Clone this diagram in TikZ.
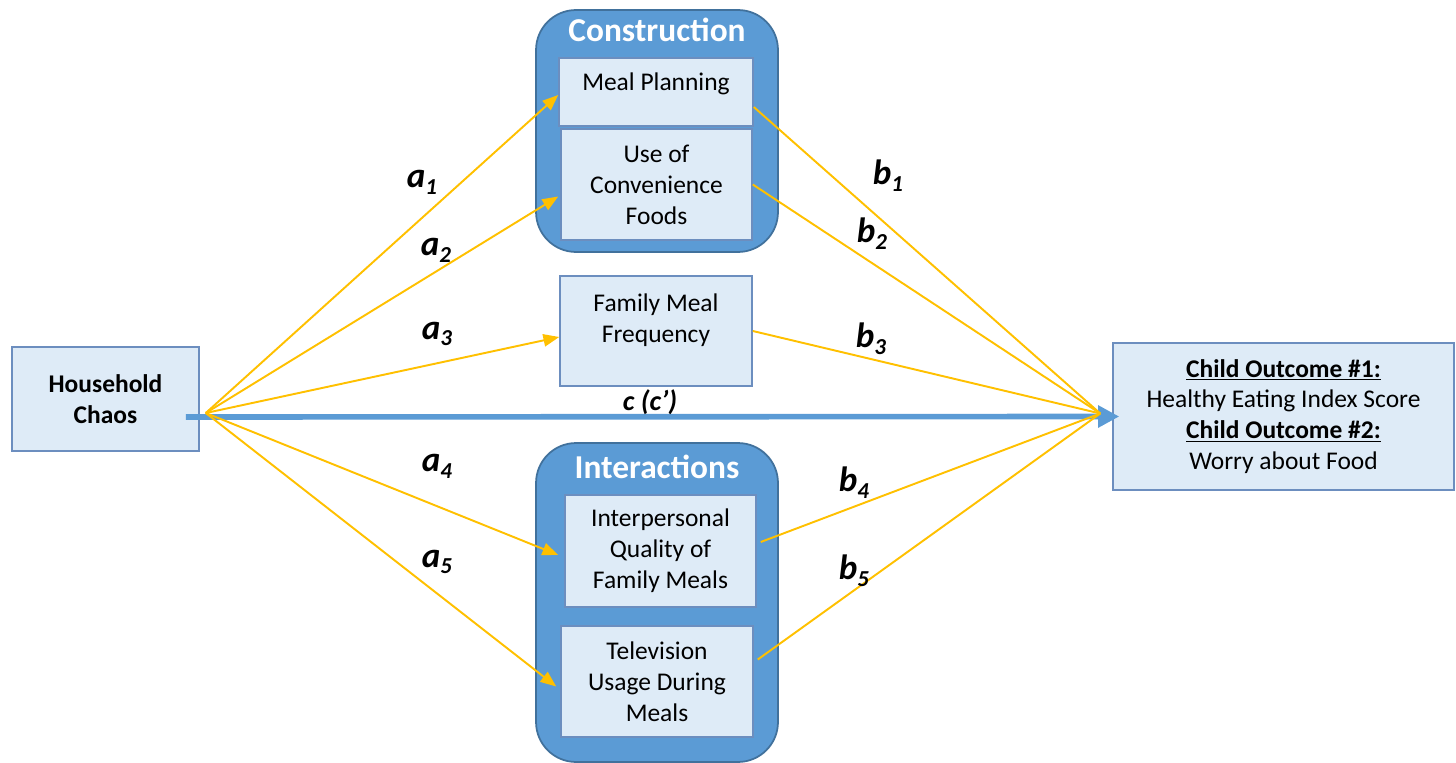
\documentclass[tikz,border=0pt]{standalone}
\usepackage{fontspec}
\setmainfont{Carlito}
\usetikzlibrary{arrows.meta}
\definecolor{boxfill}{HTML}{DEEBF7}
\definecolor{boxline}{HTML}{6C8EBF}
\definecolor{groupfill}{HTML}{5B9BD5}
\definecolor{groupline}{HTML}{41719C}
\definecolor{pathyellow}{HTML}{FFC000}
\newcommand{\coef}[2]{\textbf{\textit{#1}}\raisebox{-0.4ex}{\fontsize{13}{13}\selectfont\textbf{\textit{#2}}}}
\tikzset{
	varbox/.style={draw=boxline,fill=boxfill,line width=0.9pt,align=center,inner sep=2pt,font=\fontsize{14.5}{17.6}\selectfont},
	groupbox/.style={draw=groupline,fill=groupfill,line width=1pt,rounded corners=0.8cm},
	grouptitle/.style={text=white,font=\fontsize{19}{22}\selectfont\bfseries},
	apath/.style={pathyellow,line width=1.1pt,-{Triangle[length=9pt,width=7pt]}},
	bpath/.style={pathyellow,line width=1.1pt},
	coeflabel/.style={font=\fontsize{20}{22}\selectfont},
}

\begin{document}
\begin{tikzpicture}[x=0.02cm,y=-0.02cm]
	\useasboundingbox (0,0) rectangle (1456,763);

	\node[groupbox,minimum width=4.84cm,minimum height=4.84cm] (con) at (657,131) {};
	\node[groupbox,minimum width=4.84cm,minimum height=6.38cm] (int) at (657,602.5) {};
	\node[grouptitle] (contitle) at (657,30) {Construction};
	\node[grouptitle] (inttitle) at (657,467) {Interactions};

	\node[varbox,minimum width=3.74cm,minimum height=2.08cm,font=\fontsize{14.5}{17.6}\selectfont\bfseries] (hc) at (105.5,399) {Household\\Chaos};
	\node[varbox,minimum width=3.88cm,minimum height=1.36cm,text depth=12pt] (mp) at (656,92) {Meal Planning};
	\node[varbox,minimum width=3.82cm,minimum height=2.22cm] (cf) at (656.5,184.5) {Use of\\Convenience\\Foods};
	\node[varbox,minimum width=3.84cm,minimum height=2.2cm,text depth=15pt] (fmf) at (656,331) {Family Meal\\Frequency};
	\node[varbox,minimum width=3.82cm,minimum height=2.24cm] (iq) at (660.5,551) {Interpersonal\\Quality of\\Family Meals};
	\node[varbox,minimum width=3.84cm,minimum height=2.22cm] (tv) at (657,681.5) {Television\\Usage During\\Meals};
	\node[varbox,minimum width=6.82cm,minimum height=2.94cm] (out) at (1283.5,416.5) {\textbf{\underline{Child Outcome \#1:}}\\Healthy Eating Index Score\\\textbf{\underline{Child Outcome \#2:}}\\Worry about Food};

	\coordinate (fan) at ([shift={(6,14)}]hc.east);
	\coordinate (cstart) at ([shift={(-14,18)}]hc.east);
	\coordinate (ctip) at ([shift={(7,0)}]out.west);
	\coordinate (sink) at ([shift={(-12,-3)}]out.west);

	\draw[groupfill,line width=3.2pt,-{Triangle[length=12pt,width=12pt]}] (cstart) -- (ctip);

	\draw[apath] (fan) -- ([shift={(0,3)}]mp.west);
	\draw[apath] (fan) -- ([shift={(-2,12)}]cf.west);
	\draw[apath] (fan) -- ([shift={(0,6)}]fmf.west);
	\draw[apath] (fan) -- ([shift={(-6,4)}]iq.west);
	\draw[apath] (fan) -- ([shift={(-4,5)}]tv.west);

	\draw[bpath] ([shift={(0,15)}]mp.east) -- (sink);
	\draw[bpath] (cf.east) -- (sink);
	\draw[bpath] (fmf.east) -- (sink);
	\draw[bpath] ([shift={(4,-9)}]iq.east) -- (sink);
	\draw[bpath] ([shift={(4,-22)}]tv.east) -- (sink);

	\node[coeflabel] (la1) at (422,182) {\coef{a}{1}};
	\node[coeflabel] (la2) at (436,250) {\coef{a}{2}};
	\node[coeflabel] (la3) at (437,334) {\coef{a}{3}};
	\node[coeflabel] (la4) at (437,466) {\coef{a}{4}};
	\node[coeflabel] (la5) at (437,562) {\coef{a}{5}};
	\node[coeflabel] (lb1) at (888,176) {\coef{b}{1}};
	\node[coeflabel] (lb2) at (872,234) {\coef{b}{2}};
	\node[coeflabel] (lb3) at (871,339) {\coef{b}{3}};
	\node[coeflabel] (lb4) at (854,483) {\coef{b}{4}};
	\node[coeflabel] (lb5) at (854,571) {\coef{b}{5}};
	\node[font=\fontsize{16}{18}\selectfont\bfseries\itshape] (lc) at (650,402) {c (c’)};
\end{tikzpicture}
\end{document}
